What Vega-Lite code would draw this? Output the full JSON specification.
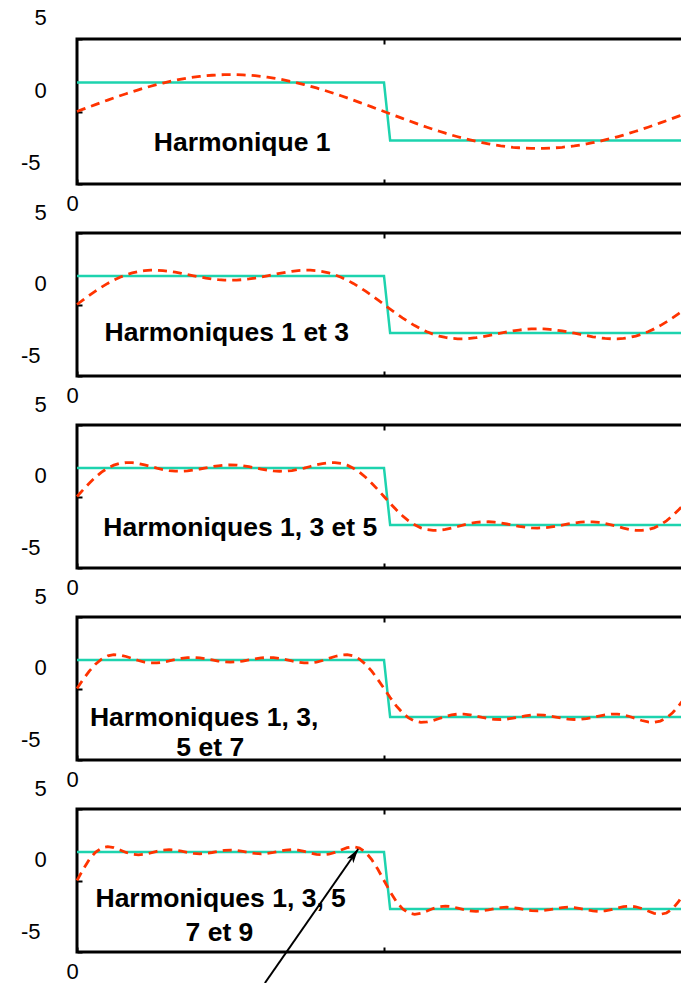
{
"$schema": "https://vega.github.io/schema/vega-lite/v6.json",
"autosize": {"type": "none"},
"padding": {"left": 77, "top": 39, "right": 604, "bottom": 944},
"background": "white",
"config": {
  "view": {"stroke": "black", "strokeWidth": 3},
  "axis": {"labelFont": "Liberation Sans", "labelColor": "black", "labelFontSize": 22, "domain": false, "grid": false, "title": null, "tickColor": "black", "tickWidth": 2, "labelOverlap": false, "labelFlush": false, "labelBound": false}
},
"datasets": {
"w": [
{"x":0,"sq":2,"h1":0,"h3":0,"h5":0,"h7":0,"h9":0},
{"x":0.01,"sq":2,"h1":0.16,"h3":0.319,"h5":0.476,"h7":0.631,"h9":0.783},
{"x":0.02,"sq":2,"h1":0.319,"h3":0.632,"h5":0.931,"h7":1.211,"h9":1.467},
{"x":0.03,"sq":2,"h1":0.477,"h3":0.932,"h5":1.344,"h7":1.696,"h9":1.977},
{"x":0.04,"sq":2,"h1":0.633,"h3":1.214,"h5":1.699,"h7":2.056,"h9":2.274},
{"x":0.05,"sq":2,"h1":0.787,"h3":1.474,"h5":1.983,"h7":2.277,"h9":2.365},
{"x":0.06,"sq":2,"h1":0.937,"h3":1.705,"h5":2.19,"h7":2.365,"h9":2.295},
{"x":0.07,"sq":2,"h1":1.084,"h3":1.906,"h5":2.318,"h7":2.341,"h9":2.135},
{"x":0.08,"sq":2,"h1":1.227,"h3":2.074,"h5":2.373,"h7":2.239,"h9":1.961},
{"x":0.09,"sq":2,"h1":1.364,"h3":2.207,"h5":2.364,"h7":2.099,"h9":1.836},
{"x":0.1,"sq":2,"h1":1.497,"h3":2.304,"h5":2.304,"h7":1.958,"h9":1.792},
{"x":0.11,"sq":2,"h1":1.623,"h3":2.367,"h5":2.21,"h7":1.849,"h9":1.831},
{"x":0.12,"sq":2,"h1":1.743,"h3":2.397,"h5":2.098,"h7":1.791,"h9":1.927},
{"x":0.13,"sq":2,"h1":1.856,"h3":2.397,"h5":1.985,"h7":1.79,"h9":2.038},
{"x":0.14,"sq":2,"h1":1.962,"h3":2.371,"h5":1.887,"h7":1.841,"h9":2.123},
{"x":0.15,"sq":2,"h1":2.06,"h3":2.322,"h5":1.813,"h7":1.926,"h9":2.155},
{"x":0.16,"sq":2,"h1":2.15,"h3":2.256,"h5":1.772,"h7":2.021,"h9":2.125},
{"x":0.17,"sq":2,"h1":2.231,"h3":2.178,"h5":1.766,"h7":2.104,"h9":2.051},
{"x":0.18,"sq":2,"h1":2.304,"h3":2.093,"h5":1.794,"h7":2.157,"h9":1.963},
{"x":0.19,"sq":2,"h1":2.368,"h3":2.006,"h5":1.849,"h7":2.168,"h9":1.894},
{"x":0.2,"sq":2,"h1":2.422,"h3":1.923,"h5":1.923,"h7":2.137,"h9":1.868},
{"x":0.21,"sq":2,"h1":2.467,"h3":1.848,"h5":2.005,"h7":2.073,"h9":1.893},
{"x":0.22,"sq":2,"h1":2.501,"h3":1.785,"h5":2.084,"h7":1.994,"h9":1.958},
{"x":0.23,"sq":2,"h1":2.526,"h3":1.737,"h5":2.149,"h7":1.917,"h9":2.038},
{"x":0.24,"sq":2,"h1":2.542,"h3":1.708,"h5":2.192,"h7":1.863,"h9":2.102},
{"x":0.25,"sq":2,"h1":2.546,"h3":1.698,"h5":2.207,"h7":1.843,"h9":2.126},
{"x":0.26,"sq":2,"h1":2.542,"h3":1.708,"h5":2.192,"h7":1.863,"h9":2.102},
{"x":0.27,"sq":2,"h1":2.526,"h3":1.737,"h5":2.149,"h7":1.917,"h9":2.038},
{"x":0.28,"sq":2,"h1":2.501,"h3":1.785,"h5":2.084,"h7":1.994,"h9":1.958},
{"x":0.29,"sq":2,"h1":2.467,"h3":1.848,"h5":2.005,"h7":2.073,"h9":1.893},
{"x":0.3,"sq":2,"h1":2.422,"h3":1.923,"h5":1.923,"h7":2.137,"h9":1.868},
{"x":0.31,"sq":2,"h1":2.368,"h3":2.006,"h5":1.849,"h7":2.168,"h9":1.894},
{"x":0.32,"sq":2,"h1":2.304,"h3":2.093,"h5":1.794,"h7":2.157,"h9":1.963},
{"x":0.33,"sq":2,"h1":2.231,"h3":2.178,"h5":1.766,"h7":2.104,"h9":2.051},
{"x":0.34,"sq":2,"h1":2.15,"h3":2.256,"h5":1.772,"h7":2.021,"h9":2.125},
{"x":0.35,"sq":2,"h1":2.06,"h3":2.322,"h5":1.813,"h7":1.926,"h9":2.155},
{"x":0.36,"sq":2,"h1":1.962,"h3":2.371,"h5":1.887,"h7":1.841,"h9":2.123},
{"x":0.37,"sq":2,"h1":1.856,"h3":2.397,"h5":1.985,"h7":1.79,"h9":2.038},
{"x":0.38,"sq":2,"h1":1.743,"h3":2.397,"h5":2.098,"h7":1.791,"h9":1.927},
{"x":0.39,"sq":2,"h1":1.623,"h3":2.367,"h5":2.21,"h7":1.849,"h9":1.831},
{"x":0.4,"sq":2,"h1":1.497,"h3":2.304,"h5":2.304,"h7":1.958,"h9":1.792},
{"x":0.41,"sq":2,"h1":1.364,"h3":2.207,"h5":2.364,"h7":2.099,"h9":1.836},
{"x":0.42,"sq":2,"h1":1.227,"h3":2.074,"h5":2.373,"h7":2.239,"h9":1.961},
{"x":0.43,"sq":2,"h1":1.084,"h3":1.906,"h5":2.318,"h7":2.341,"h9":2.135},
{"x":0.44,"sq":2,"h1":0.937,"h3":1.705,"h5":2.19,"h7":2.365,"h9":2.295},
{"x":0.45,"sq":2,"h1":0.787,"h3":1.474,"h5":1.983,"h7":2.277,"h9":2.365},
{"x":0.46,"sq":2,"h1":0.633,"h3":1.214,"h5":1.699,"h7":2.056,"h9":2.274},
{"x":0.47,"sq":2,"h1":0.477,"h3":0.932,"h5":1.344,"h7":1.696,"h9":1.977},
{"x":0.48,"sq":2,"h1":0.319,"h3":0.632,"h5":0.931,"h7":1.211,"h9":1.467},
{"x":0.49,"sq":2,"h1":0.16,"h3":0.319,"h5":0.476,"h7":0.631,"h9":0.783},
{"x":0.5,"sq":2,"h1":0,"h3":0,"h5":0,"h7":0,"h9":0},
{"x":0.51,"sq":-2,"h1":-0.16,"h3":-0.319,"h5":-0.476,"h7":-0.631,"h9":-0.783},
{"x":0.52,"sq":-2,"h1":-0.319,"h3":-0.632,"h5":-0.931,"h7":-1.211,"h9":-1.467},
{"x":0.53,"sq":-2,"h1":-0.477,"h3":-0.932,"h5":-1.344,"h7":-1.696,"h9":-1.977},
{"x":0.54,"sq":-2,"h1":-0.633,"h3":-1.214,"h5":-1.699,"h7":-2.056,"h9":-2.274},
{"x":0.55,"sq":-2,"h1":-0.787,"h3":-1.474,"h5":-1.983,"h7":-2.277,"h9":-2.365},
{"x":0.56,"sq":-2,"h1":-0.937,"h3":-1.705,"h5":-2.19,"h7":-2.365,"h9":-2.295},
{"x":0.57,"sq":-2,"h1":-1.084,"h3":-1.906,"h5":-2.318,"h7":-2.341,"h9":-2.135},
{"x":0.58,"sq":-2,"h1":-1.227,"h3":-2.074,"h5":-2.373,"h7":-2.239,"h9":-1.961},
{"x":0.59,"sq":-2,"h1":-1.364,"h3":-2.207,"h5":-2.364,"h7":-2.099,"h9":-1.836},
{"x":0.6,"sq":-2,"h1":-1.497,"h3":-2.304,"h5":-2.304,"h7":-1.958,"h9":-1.792},
{"x":0.61,"sq":-2,"h1":-1.623,"h3":-2.367,"h5":-2.21,"h7":-1.849,"h9":-1.831},
{"x":0.62,"sq":-2,"h1":-1.743,"h3":-2.397,"h5":-2.098,"h7":-1.791,"h9":-1.927},
{"x":0.63,"sq":-2,"h1":-1.856,"h3":-2.397,"h5":-1.985,"h7":-1.79,"h9":-2.038},
{"x":0.64,"sq":-2,"h1":-1.962,"h3":-2.371,"h5":-1.887,"h7":-1.841,"h9":-2.123},
{"x":0.65,"sq":-2,"h1":-2.06,"h3":-2.322,"h5":-1.813,"h7":-1.926,"h9":-2.155},
{"x":0.66,"sq":-2,"h1":-2.15,"h3":-2.256,"h5":-1.772,"h7":-2.021,"h9":-2.125},
{"x":0.67,"sq":-2,"h1":-2.231,"h3":-2.178,"h5":-1.766,"h7":-2.104,"h9":-2.051},
{"x":0.68,"sq":-2,"h1":-2.304,"h3":-2.093,"h5":-1.794,"h7":-2.157,"h9":-1.963},
{"x":0.69,"sq":-2,"h1":-2.368,"h3":-2.006,"h5":-1.849,"h7":-2.168,"h9":-1.894},
{"x":0.7,"sq":-2,"h1":-2.422,"h3":-1.923,"h5":-1.923,"h7":-2.137,"h9":-1.868},
{"x":0.71,"sq":-2,"h1":-2.467,"h3":-1.848,"h5":-2.005,"h7":-2.073,"h9":-1.893},
{"x":0.72,"sq":-2,"h1":-2.501,"h3":-1.785,"h5":-2.084,"h7":-1.994,"h9":-1.958},
{"x":0.73,"sq":-2,"h1":-2.526,"h3":-1.737,"h5":-2.149,"h7":-1.917,"h9":-2.038},
{"x":0.74,"sq":-2,"h1":-2.542,"h3":-1.708,"h5":-2.192,"h7":-1.863,"h9":-2.102},
{"x":0.75,"sq":-2,"h1":-2.546,"h3":-1.698,"h5":-2.207,"h7":-1.843,"h9":-2.126},
{"x":0.76,"sq":-2,"h1":-2.542,"h3":-1.708,"h5":-2.192,"h7":-1.863,"h9":-2.102},
{"x":0.77,"sq":-2,"h1":-2.526,"h3":-1.737,"h5":-2.149,"h7":-1.917,"h9":-2.038},
{"x":0.78,"sq":-2,"h1":-2.501,"h3":-1.785,"h5":-2.084,"h7":-1.994,"h9":-1.958},
{"x":0.79,"sq":-2,"h1":-2.467,"h3":-1.848,"h5":-2.005,"h7":-2.073,"h9":-1.893},
{"x":0.8,"sq":-2,"h1":-2.422,"h3":-1.923,"h5":-1.923,"h7":-2.137,"h9":-1.868},
{"x":0.81,"sq":-2,"h1":-2.368,"h3":-2.006,"h5":-1.849,"h7":-2.168,"h9":-1.894},
{"x":0.82,"sq":-2,"h1":-2.304,"h3":-2.093,"h5":-1.794,"h7":-2.157,"h9":-1.963},
{"x":0.83,"sq":-2,"h1":-2.231,"h3":-2.178,"h5":-1.766,"h7":-2.104,"h9":-2.051},
{"x":0.84,"sq":-2,"h1":-2.15,"h3":-2.256,"h5":-1.772,"h7":-2.021,"h9":-2.125},
{"x":0.85,"sq":-2,"h1":-2.06,"h3":-2.322,"h5":-1.813,"h7":-1.926,"h9":-2.155},
{"x":0.86,"sq":-2,"h1":-1.962,"h3":-2.371,"h5":-1.887,"h7":-1.841,"h9":-2.123},
{"x":0.87,"sq":-2,"h1":-1.856,"h3":-2.397,"h5":-1.985,"h7":-1.79,"h9":-2.038},
{"x":0.88,"sq":-2,"h1":-1.743,"h3":-2.397,"h5":-2.098,"h7":-1.791,"h9":-1.927},
{"x":0.89,"sq":-2,"h1":-1.623,"h3":-2.367,"h5":-2.21,"h7":-1.849,"h9":-1.831},
{"x":0.9,"sq":-2,"h1":-1.497,"h3":-2.304,"h5":-2.304,"h7":-1.958,"h9":-1.792},
{"x":0.91,"sq":-2,"h1":-1.364,"h3":-2.207,"h5":-2.364,"h7":-2.099,"h9":-1.836},
{"x":0.92,"sq":-2,"h1":-1.227,"h3":-2.074,"h5":-2.373,"h7":-2.239,"h9":-1.961},
{"x":0.93,"sq":-2,"h1":-1.084,"h3":-1.906,"h5":-2.318,"h7":-2.341,"h9":-2.135},
{"x":0.94,"sq":-2,"h1":-0.937,"h3":-1.705,"h5":-2.19,"h7":-2.365,"h9":-2.295},
{"x":0.95,"sq":-2,"h1":-0.787,"h3":-1.474,"h5":-1.983,"h7":-2.277,"h9":-2.365},
{"x":0.96,"sq":-2,"h1":-0.633,"h3":-1.214,"h5":-1.699,"h7":-2.056,"h9":-2.274},
{"x":0.97,"sq":-2,"h1":-0.477,"h3":-0.932,"h5":-1.344,"h7":-1.696,"h9":-1.977},
{"x":0.98,"sq":-2,"h1":-0.319,"h3":-0.632,"h5":-0.931,"h7":-1.211,"h9":-1.467},
{"x":0.99,"sq":-2,"h1":-0.16,"h3":-0.319,"h5":-0.476,"h7":-0.631,"h9":-0.783},
{"x":1,"sq":-2,"h1":0,"h3":0,"h5":0,"h7":0,"h9":0}
]
},
"spacing": 49,
"bounds": "flush",
"vconcat": [
{
  "width": 614, "height": 145,
  "resolve": {"axis": {"x": "independent", "y": "independent"}},
  "layer": [
    {"data": {"name": "w"}, "mark": {"type": "line", "color": "#1dd3ae", "strokeWidth": 2.5},
     "encoding": {
       "x": {"field": "x", "type": "quantitative", "scale": {"domain": [0, 1], "nice": false, "zero": false},
             "axis": {"orient": "bottom", "values": [0, 0.5, 1], "labelExpr": "datum.value == 0 ? '0' : datum.value == 1 ? '1' : ''", "tickSize": -5, "labelPadding": 14, "labelOffset": -5}},
       "y": {"field": "sq", "type": "quantitative", "scale": {"domain": [-5, 5], "nice": false, "zero": false},
             "axis": {"orient": "left", "values": [-5, 0, 5], "labelExpr": "datum.value < 0 ? '-' + abs(datum.value) : '' + datum.value", "tickSize": -5, "labelOffset": -21.5, "labelPadding": 42, "labelBaseline": "middle", "labelAlign": {"condition": {"test": "datum.value < 0", "value": "right"}, "value": "center"}}}
     }},
    {"data": {"name": "w"}, "mark": {"type": "line", "color": "#ff3300", "strokeWidth": 2.8, "strokeDash": [9, 6]},
     "encoding": {
       "x": {"field": "x", "type": "quantitative", "axis": {"orient": "top", "values": [0.5], "labels": false, "tickSize": -5}},
       "y": {"field": "h1", "type": "quantitative", "axis": null}
     }},
    {"data": {"values": [{"x": 0.269, "y": -2.2, "t": "Harmonique 1"}]},
     "mark": {"type": "text", "font": "Liberation Sans", "fontWeight": "bold", "fontSize": 26.5, "color": "black"},
     "encoding": {"x": {"field": "x", "type": "quantitative", "axis": null}, "y": {"field": "y", "type": "quantitative", "axis": null}, "text": {"field": "t"}}}
  ]
},
{
  "width": 614, "height": 143,
  "resolve": {"axis": {"x": "independent", "y": "independent"}},
  "layer": [
    {"data": {"name": "w"}, "mark": {"type": "line", "color": "#1dd3ae", "strokeWidth": 2.5},
     "encoding": {
       "x": {"field": "x", "type": "quantitative", "scale": {"domain": [0, 1], "nice": false, "zero": false},
             "axis": {"orient": "bottom", "values": [0, 0.5, 1], "labelExpr": "datum.value == 0 ? '0' : datum.value == 1 ? '1' : ''", "tickSize": -5, "labelPadding": 14, "labelOffset": -5}},
       "y": {"field": "sq", "type": "quantitative", "scale": {"domain": [-5, 5], "nice": false, "zero": false},
             "axis": {"orient": "left", "values": [-5, 0, 5], "labelExpr": "datum.value < 0 ? '-' + abs(datum.value) : '' + datum.value", "tickSize": -5, "labelOffset": -21, "labelPadding": 42, "labelBaseline": "middle", "labelAlign": {"condition": {"test": "datum.value < 0", "value": "right"}, "value": "center"}}}
     }},
    {"data": {"name": "w"}, "mark": {"type": "line", "color": "#ff3300", "strokeWidth": 2.8, "strokeDash": [9, 6]},
     "encoding": {
       "x": {"field": "x", "type": "quantitative", "axis": {"orient": "top", "values": [0.5], "labels": false, "tickSize": -5}},
       "y": {"field": "h3", "type": "quantitative", "axis": null}
     }},
    {"data": {"values": [{"x": 0.244, "y": -1.99, "t": "Harmoniques 1 et 3"}]},
     "mark": {"type": "text", "font": "Liberation Sans", "fontWeight": "bold", "fontSize": 26.5, "color": "black"},
     "encoding": {"x": {"field": "x", "type": "quantitative", "axis": null}, "y": {"field": "y", "type": "quantitative", "axis": null}, "text": {"field": "t"}}}
  ]
},
{
  "width": 614, "height": 143,
  "resolve": {"axis": {"x": "independent", "y": "independent"}},
  "layer": [
    {"data": {"name": "w"}, "mark": {"type": "line", "color": "#1dd3ae", "strokeWidth": 2.5},
     "encoding": {
       "x": {"field": "x", "type": "quantitative", "scale": {"domain": [0, 1], "nice": false, "zero": false},
             "axis": {"orient": "bottom", "values": [0, 0.5, 1], "labelExpr": "datum.value == 0 ? '0' : datum.value == 1 ? '1' : ''", "tickSize": -5, "labelPadding": 14, "labelOffset": -5}},
       "y": {"field": "sq", "type": "quantitative", "scale": {"domain": [-5, 5], "nice": false, "zero": false},
             "axis": {"orient": "left", "values": [-5, 0, 5], "labelExpr": "datum.value < 0 ? '-' + abs(datum.value) : '' + datum.value", "tickSize": -5, "labelOffset": -21, "labelPadding": 42, "labelBaseline": "middle", "labelAlign": {"condition": {"test": "datum.value < 0", "value": "right"}, "value": "center"}}}
     }},
    {"data": {"name": "w"}, "mark": {"type": "line", "color": "#ff3300", "strokeWidth": 2.8, "strokeDash": [9, 6]},
     "encoding": {
       "x": {"field": "x", "type": "quantitative", "axis": {"orient": "top", "values": [0.5], "labels": false, "tickSize": -5}},
       "y": {"field": "h5", "type": "quantitative", "axis": null}
     }},
    {"data": {"values": [{"x": 0.266, "y": -2.2, "t": "Harmoniques 1, 3 et 5"}]},
     "mark": {"type": "text", "font": "Liberation Sans", "fontWeight": "bold", "fontSize": 26.5, "color": "black"},
     "encoding": {"x": {"field": "x", "type": "quantitative", "axis": null}, "y": {"field": "y", "type": "quantitative", "axis": null}, "text": {"field": "t"}}}
  ]
},
{
  "width": 614, "height": 143,
  "resolve": {"axis": {"x": "independent", "y": "independent"}},
  "layer": [
    {"data": {"name": "w"}, "mark": {"type": "line", "color": "#1dd3ae", "strokeWidth": 2.5},
     "encoding": {
       "x": {"field": "x", "type": "quantitative", "scale": {"domain": [0, 1], "nice": false, "zero": false},
             "axis": {"orient": "bottom", "values": [0, 0.5, 1], "labelExpr": "datum.value == 0 ? '0' : datum.value == 1 ? '1' : ''", "tickSize": -5, "labelPadding": 14, "labelOffset": -5}},
       "y": {"field": "sq", "type": "quantitative", "scale": {"domain": [-5, 5], "nice": false, "zero": false},
             "axis": {"orient": "left", "values": [-5, 0, 5], "labelExpr": "datum.value < 0 ? '-' + abs(datum.value) : '' + datum.value", "tickSize": -5, "labelOffset": -21, "labelPadding": 42, "labelBaseline": "middle", "labelAlign": {"condition": {"test": "datum.value < 0", "value": "right"}, "value": "center"}}}
     }},
    {"data": {"name": "w"}, "mark": {"type": "line", "color": "#ff3300", "strokeWidth": 2.8, "strokeDash": [9, 6]},
     "encoding": {
       "x": {"field": "x", "type": "quantitative", "axis": {"orient": "top", "values": [0.5], "labels": false, "tickSize": -5}},
       "y": {"field": "h7", "type": "quantitative", "axis": null}
     }},
    {"data": {"values": [{"x": 0.207, "y": -2.06, "t": "Harmoniques 1, 3,"}, {"x": 0.217, "y": -4.16, "t": "5 et 7"}]},
     "mark": {"type": "text", "font": "Liberation Sans", "fontWeight": "bold", "fontSize": 26.5, "color": "black"},
     "encoding": {"x": {"field": "x", "type": "quantitative", "axis": null}, "y": {"field": "y", "type": "quantitative", "axis": null}, "text": {"field": "t"}}}
  ]
},
{
  "width": 614, "height": 143,
  "resolve": {"axis": {"x": "independent", "y": "independent"}},
  "layer": [
    {"data": {"name": "w"}, "mark": {"type": "line", "color": "#1dd3ae", "strokeWidth": 2.5},
     "encoding": {
       "x": {"field": "x", "type": "quantitative", "scale": {"domain": [0, 1], "nice": false, "zero": false},
             "axis": {"orient": "bottom", "values": [0, 0.5, 1], "labelExpr": "datum.value == 0 ? '0' : datum.value == 1 ? '1' : ''", "tickSize": -5, "labelPadding": 14, "labelOffset": -5}},
       "y": {"field": "sq", "type": "quantitative", "scale": {"domain": [-5, 5], "nice": false, "zero": false},
             "axis": {"orient": "left", "values": [-5, 0, 5], "labelExpr": "datum.value < 0 ? '-' + abs(datum.value) : '' + datum.value", "tickSize": -5, "labelOffset": -21, "labelPadding": 42, "labelBaseline": "middle", "labelAlign": {"condition": {"test": "datum.value < 0", "value": "right"}, "value": "center"}}}
     }},
    {"data": {"name": "w"}, "mark": {"type": "line", "color": "#ff3300", "strokeWidth": 2.8, "strokeDash": [9, 6]},
     "encoding": {
       "x": {"field": "x", "type": "quantitative", "axis": {"orient": "top", "values": [0.5], "labels": false, "tickSize": -5}},
       "y": {"field": "h9", "type": "quantitative", "axis": null}
     }},
    {"data": {"values": [{"x": 0.234, "y": -1.3, "t": "Harmoniques 1, 3, 5"}, {"x": 0.232, "y": -3.65, "t": "7 et 9"}]},
     "mark": {"type": "text", "font": "Liberation Sans", "fontWeight": "bold", "fontSize": 26.5, "color": "black"},
     "encoding": {"x": {"field": "x", "type": "quantitative", "axis": null}, "y": {"field": "y", "type": "quantitative", "axis": null}, "text": {"field": "t"}}},
    {"data": {"values": [{"x": 0.306, "y": -7.17, "x2": 0.458, "y2": 2.2}]},
     "mark": {"type": "rule", "color": "black", "strokeWidth": 2},
     "encoding": {"x": {"field": "x", "type": "quantitative", "axis": null}, "y": {"field": "y", "type": "quantitative", "axis": null}, "x2": {"field": "x2"}, "y2": {"field": "y2"}}},
    {"data": {"values": [{"x": 0.306, "y": -7.17, "x2": 0.458, "y2": 2.2}]},
     "mark": {"type": "point", "shape": "M0,0L0.45,1.6L0,1.2L-0.45,1.6Z", "filled": true, "color": "black", "opacity": 1, "size": 324, "angle": 34.8},
     "encoding": {"x": {"field": "x2", "type": "quantitative", "axis": null}, "y": {"field": "y2", "type": "quantitative", "axis": null}}}
  ]
}
]
}
